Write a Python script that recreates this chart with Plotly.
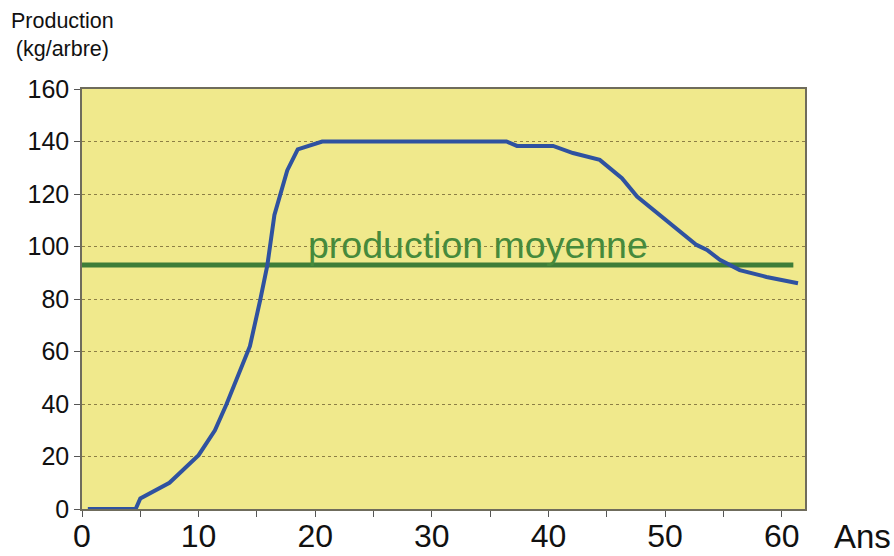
import plotly.graph_objects as go

# Data (years, production kg/tree)
ages = [0.5, 4.6, 5.0, 7.5, 10.0, 11.4, 12.4, 14.4, 15.3, 15.9, 16.5, 17.6, 18.5,
        20.6, 36.4, 37.3, 40.4, 42.1, 44.4, 46.3, 47.6, 49.3, 51.5, 52.7, 53.6,
        54.7, 56.4, 58.7, 61.4]
production = [0, 0, 4, 10, 20.5, 30, 40, 62, 80, 93, 112, 129, 137,
              140, 140, 138.3, 138.3, 135.6, 133, 126, 119, 113, 105, 100.6, 98.7,
              94.9, 91, 88.4, 86]
mean_x = [0, 61]
mean_y = [93, 93]
mean_label = "production moyenne"
x_ticks = [0, 10, 20, 30, 40, 50, 60]
y_ticks = [0, 20, 40, 60, 80, 100, 120, 140, 160]

FONT = "Liberation Sans, Arial, sans-serif"

W, H = 894, 556
L, T = 82, 89
R = W - 805
B = H - 509
pw, ph = W - L - R, H - T - B

def px_to_paper(px, py):
    return (px - L) / pw, (H - py - B) / ph

fig = go.Figure()
fig.add_trace(go.Scatter(x=mean_x, y=mean_y, mode="lines",
                         line=dict(color="#3e7d38", width=5), hoverinfo="skip"))
fig.add_trace(go.Scatter(x=ages, y=production, mode="lines",
                         line=dict(color="#2f52a0", width=4), hoverinfo="skip"))

fig.add_annotation(x=34, y=100.5, xref="x", yref="y", text=mean_label,
                   showarrow=False, font=dict(family=FONT, size=37.5, color="#468a3c"),
                   xanchor="center", yanchor="middle")

ax, ay = px_to_paper(62, 35)
fig.add_annotation(x=ax, y=ay, xref="paper", yref="paper",
                   text="Production<br>(kg/arbre)", showarrow=False, align="center",
                   xanchor="center", yanchor="middle",
                   font=dict(family=FONT, size=21.5, color="#111"))
ax, ay = px_to_paper(862, 536)
fig.add_annotation(x=ax, y=ay, xref="paper", yref="paper", text="Ans",
                   showarrow=False, xanchor="center", yanchor="middle",
                   font=dict(family=FONT, size=33, color="#111"))

fig.update_layout(
    width=W, height=H,
    margin=dict(l=L, r=R, t=T, b=B, autoexpand=False),
    paper_bgcolor="white",
    plot_bgcolor="#f0e98c",
    showlegend=False,
    font=dict(family=FONT, color="#111"),
)
fig.update_xaxes(
    range=[0, 62], tickvals=x_ticks, ticktext=[str(v) for v in x_ticks],
    automargin=False,
    showgrid=False, zeroline=False,
    showline=True, mirror=True, linecolor="#6f6c5c", linewidth=1.5,
    ticks="outside", ticklen=6, tickcolor="#555",
    ticklabelstandoff=-8,
    minor=dict(dtick=5, tick0=0, ticks="outside", ticklen=6, tickcolor="#555", showgrid=False),
    tickfont=dict(family=FONT, size=32, color="#111"),
)
fig.update_yaxes(
    range=[0, 160], tickvals=y_ticks, ticktext=[str(v) for v in y_ticks],
    automargin=False,
    showgrid=True, gridcolor="#8c7f45", griddash="dot", gridwidth=1,
    zeroline=False,
    showline=True, mirror=True, linecolor="#6f6c5c", linewidth=1.5,
    ticks="outside", ticklen=6, tickcolor="#555",
    tickfont=dict(family=FONT, size=25, color="#111"),
)

fig.write_html(
    "out.html",
    config={"displayModeBar": False},
    post_script="document.documentElement.style.overflow='hidden';"
                "document.body.style.margin='0';document.body.style.overflow='hidden';",
)
